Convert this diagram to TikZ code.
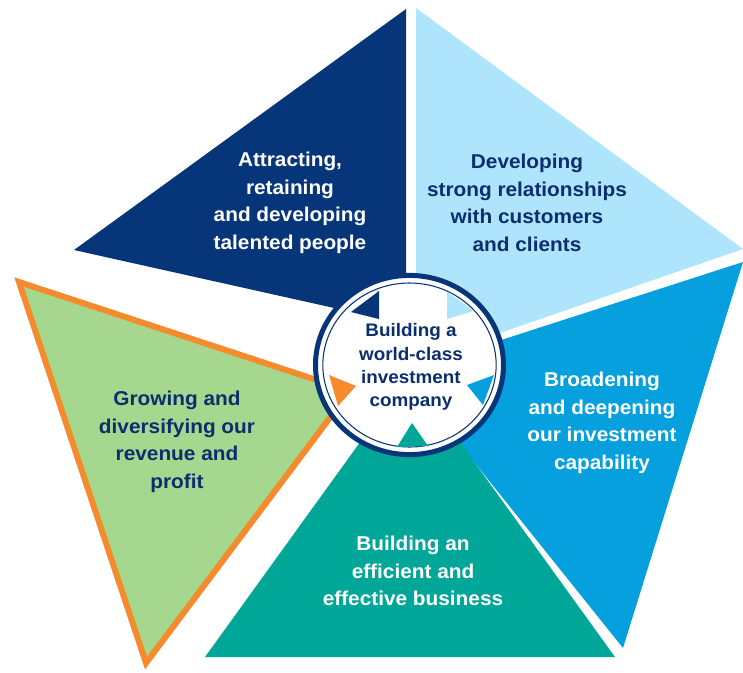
\documentclass[tikz,border=0pt]{standalone}
\usepackage{fontspec}
\setmainfont[FakeStretch=1.04]{Liberation Sans}
\usepackage{tikz}
\definecolor{navy}{HTML}{07357A}
\definecolor{sky}{HTML}{AFE5FC}
\definecolor{ocean}{HTML}{05A0DD}
\definecolor{jade}{HTML}{00A698}
\definecolor{leaf}{HTML}{A5D78E}
\definecolor{amber}{HTML}{F68B2D}
\definecolor{ink}{HTML}{0A2E6E}
\tikzset{lbl/.style={align=center,inner sep=0pt,font=\fontsize{15}{20.6}\selectfont\bfseries}}

\begin{document}
\begin{tikzpicture}[x=0.75pt,y=-0.75pt]
\useasboundingbox (0,0) rectangle (743,672);

\fill[navy] (74,250) -- (406,9) -- (406,324) -- cycle;
\fill[sky] (416,8) -- (743,249) -- (416,362) -- cycle;
\fill[ocean] (743,262) -- (623,648) -- (402,372) -- cycle;
\fill[jade] (205,657) -- (615,657) -- (410,373) -- cycle;
\filldraw[fill=leaf,draw=amber,line width=4.5pt,line join=miter] (19,282) -- (350,391) -- (146,663) -- cycle;

\filldraw[fill=white,draw=navy,line width=3.75pt] (409.5,365) ellipse [x radius=70.5pt,y radius=67.2pt];
\draw[navy,line width=0.8pt] (409.5,365) ellipse [x radius=65pt,y radius=61.5pt];

\fill[navy] (351,312) -- (379,291) -- (379,319) -- cycle;
\fill[sky] (447,292) -- (474,311) -- (447,319) -- cycle;
\fill[ocean] (467,385) -- (494,375) -- (483,405) -- cycle;
\fill[jade] (397,447) -- (412,423) -- (428,446) -- cycle;
\fill[amber] (329,375) -- (356,386) -- (338,406) -- cycle;

\node[lbl,white] (people) at (290,203) {Attracting,\\retaining\\and developing\\talented people};
\node[lbl,ink] (clients) at (527,203) {Developing\\strong relationships\\with customers\\and clients};
\node[lbl,white] (capability) at (602,423) {Broadening\\and deepening\\our investment\\capability};
\node[lbl,white] (business) at (413,571) {Building an\\efficient and\\effective business};
\node[lbl,ink] (profit) at (177,442) {Growing and\\diversifying our\\revenue and\\profit};
\node[lbl,ink,font=\fontsize{13.6}{17.5}\selectfont\bfseries] (company) at (411,367) {Building a\\world-class\\investment\\company};

\end{tikzpicture}
\end{document}
